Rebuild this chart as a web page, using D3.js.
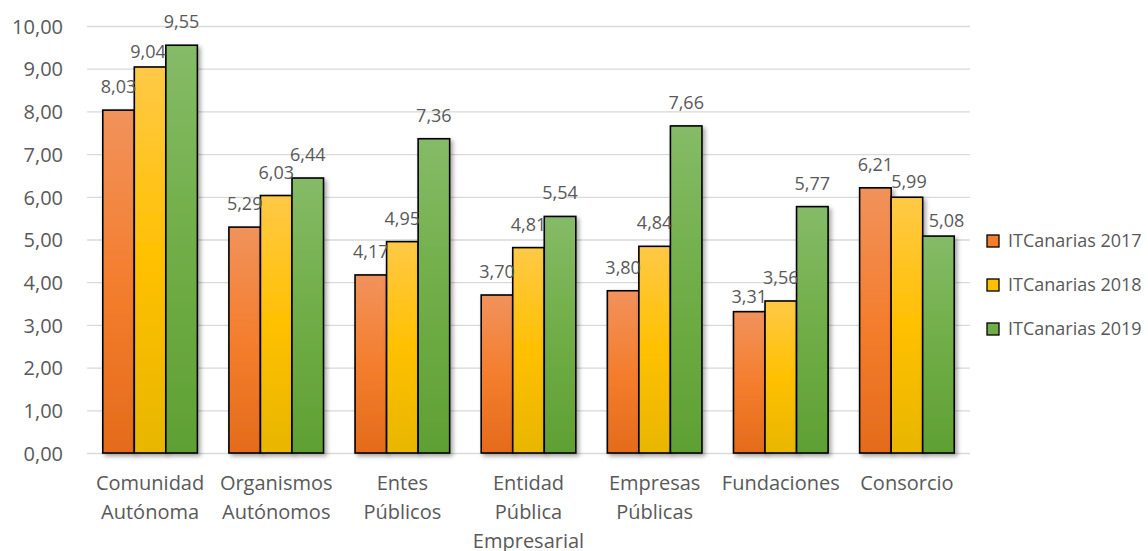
<!DOCTYPE html>
<html>
<head>
<meta charset="utf-8">
<script src="https://cdn.jsdelivr.net/npm/d3@7"></script>
<style>
  html, body { margin: 0; padding: 0; background: #fff; }
  svg { display: block; }
  text { font-family: "Open Sans", "Noto Sans", sans-serif; fill: #595959; }
</style>
</head>
<body>
<svg id="chart" width="1148" height="551"></svg>
<script>
// ---- data ----
const categories = [
  ["Comunidad", "Autónoma"],
  ["Organismos", "Autónomos"],
  ["Entes", "Públicos"],
  ["Entidad", "Pública", "Empresarial"],
  ["Empresas", "Públicas"],
  ["Fundaciones"],
  ["Consorcio"]
];
const seriesNames = ["ITCanarias 2017", "ITCanarias 2018", "ITCanarias 2019"];
const values2017 = [8.03, 5.29, 4.17, 3.70, 3.80, 3.31, 6.21];
const values2018 = [9.04, 6.03, 4.95, 4.81, 4.84, 3.56, 5.99];
const values2019 = [9.55, 6.44, 7.36, 5.54, 7.66, 5.77, 5.08];
const yTicks = [0, 1, 2, 3, 4, 5, 6, 7, 8, 9, 10];

// ---- styles ----
const gradStops = [
  ["#F1925C", "#F47E2E", "#E46B1B"],
  ["#FFC947", "#FFC000", "#E8B600"],
  ["#85BB67", "#70AD47", "#5FA033"]
];
const legendColors = ["#F47E2E", "#FFC000", "#70AD47"];
// labels that sit lower / shifted in the original (layout tweak, keyed "category-series")
const labelTweak = { "0-1": [-2, 8], "5-0": [0, 8], "6-1": [2, 8], "6-2": [8, 8] };

const svg = d3.select("#chart");
const plotL = 87, plotR = 970, plotT = 26, plotB = 453;

const seriesValues = [values2017, values2018, values2019];
const catIdx = categories.map((d, i) => i);

const x0 = d3.scaleBand().domain(catIdx).range([plotL, plotR]).paddingInner(0.25).paddingOuter(0.125);
const x1 = d3.scaleBand().domain([0, 1, 2]).range([0, x0.bandwidth()]).padding(0);
const y = d3.scaleLinear().domain([0, 10]).range([plotB, plotT]);

const defs = svg.append("defs");
gradStops.forEach((stops, i) => {
  const g = defs.append("linearGradient").attr("id", "grad" + i)
    .attr("x1", 0).attr("y1", 0).attr("x2", 0).attr("y2", 1);
  g.append("stop").attr("offset", "0%").attr("stop-color", stops[0]);
  g.append("stop").attr("offset", "50%").attr("stop-color", stops[1]);
  g.append("stop").attr("offset", "100%").attr("stop-color", stops[2]);
});
const f = defs.append("filter").attr("id", "shadow")
  .attr("x", "-20%").attr("y", "-10%").attr("width", "150%").attr("height", "130%");
f.append("feDropShadow").attr("dx", 2.5).attr("dy", 2.5).attr("stdDeviation", 2)
  .attr("flood-color", "#000").attr("flood-opacity", 0.35);

// gridlines + y axis
const yAxis = d3.axisLeft(y).tickValues(yTicks)
  .tickSize(-(plotR - plotL))
  .tickFormat(d => d3.format(".2f")(d).replace(".", ","))
  .tickPadding(24);
const gy = svg.append("g").attr("transform", `translate(${plotL},0)`).call(yAxis);
gy.select(".domain").remove();
gy.selectAll(".tick line").attr("stroke", "#d9d9d9").attr("stroke-width", 1.3);
gy.selectAll(".tick text").attr("font-size", 20).attr("fill", "#595959")
  .style("font-family", '"Open Sans", sans-serif').attr("dy", "0.36em");

// bars
const groups = svg.append("g").selectAll("g").data(catIdx).join("g")
  .attr("transform", i => `translate(${x0(i)},0)`);

groups.selectAll("rect").data(i => seriesValues.map((s, k) => ({ i, k, v: s[i] }))).join("rect")
  .attr("x", d => x1(d.k))
  .attr("y", d => y(d.v))
  .attr("width", x1.bandwidth())
  .attr("height", d => y(0) - y(d.v))
  .attr("fill", d => `url(#grad${d.k})`)
  .attr("stroke", "#000").attr("stroke-width", 1.6)
  .attr("filter", "url(#shadow)");

// value labels
const tw = d => labelTweak[d.i + "-" + d.k] || [0, 0];
groups.selectAll("text.val").data(i => seriesValues.map((s, k) => ({ i, k, v: s[i] }))).join("text")
  .attr("class", "val")
  .attr("x", d => x1(d.k) + x1.bandwidth() / 2 + tw(d)[0])
  .attr("y", d => y(d.v) - 17 + tw(d)[1])
  .attr("text-anchor", "middle")
  .attr("font-size", 18)
  .text(d => d3.format(".2f")(d.v).replace(".", ","));

// category labels
const xl = svg.append("g");
catIdx.forEach(i => {
  const cx = x0(i) + x0.bandwidth() / 2;
  const t = xl.append("text")
    .attr("x", cx)
    .attr("y", 490)
    .attr("text-anchor", "middle")
    .attr("font-size", 20);
  categories[i].forEach((line, j) => {
    t.append("tspan").attr("x", cx).attr("dy", j === 0 ? 0 : 29).text(line);
  });
});

// legend
const lg = svg.append("g").attr("transform", "translate(987,241)");
seriesNames.forEach((name, k) => {
  const row = lg.append("g").attr("transform", `translate(0,${k * 44})`);
  row.append("rect").attr("x", 0).attr("y", -6).attr("width", 12).attr("height", 12)
    .attr("fill", legendColors[k]).attr("stroke", "#000").attr("stroke-width", 1.3);
  row.append("text").attr("x", 21).attr("y", 0).attr("dy", "0.36em")
    .attr("font-size", 18).text(name);
});
</script>
</body>
</html>
